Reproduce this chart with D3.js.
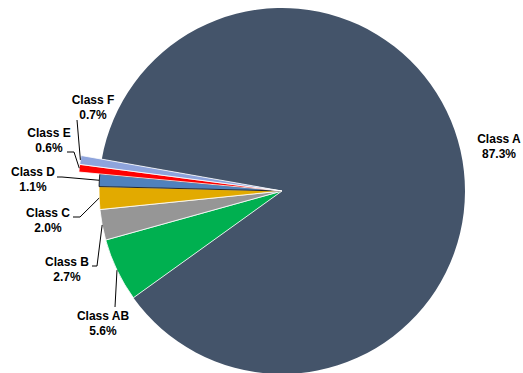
<!DOCTYPE html>
<html>
<head>
<meta charset="utf-8">
<script src="https://cdn.jsdelivr.net/npm/d3@7"></script>
<style>
  body { margin: 0; background: #fff; }
  text { font-family: Arial, "Liberation Sans", sans-serif; font-weight: bold; font-size: 12px; fill: #000; }
</style>
</head>
<body>
<svg id="chart"></svg>
<script>
// data, in drawing order (clockwise from the A / AB border)
let classes = ["Class AB", "Class B", "Class C", "Class D", "Class E", "Class F", "Class A"];
let shares = [5.6, 2.7, 2.0, 1.1, 0.6, 0.7, 87.3];
let colors = ["#00B050", "#969696", "#E2AA00", "#4F81BD", "#FF0000", "#8EA4DC", "#44546A"];

let width = 523, height = 373;
let cx = 282, cy = 191, radius = 183;

let svg = d3.select("#chart")
    .attr("width", width)
    .attr("height", height);

let g = svg.append("g").attr("transform", "translate(" + cx + "," + cy + ")");

// start angle (A/AB border, lower left)
let startAngle = 234.3 * Math.PI / 180;

let pie = d3.pie()
    .sort(null)
    .value(function (d) { return d; })
    .startAngle(startAngle)
    .endAngle(startAngle + 2 * Math.PI);

let arcs = pie(shares);

// E and F stick out a bit further than the rest
function outerR(i) {
    return (classes[i] === "Class E" || classes[i] === "Class F") ? 204 : radius;
}

let arc = d3.arc().innerRadius(0);

// big slice first so the small ones sit on top
let order = [6, 0, 1, 2, 3, 4, 5];
g.selectAll("path.slice")
    .data(order)
    .enter().append("path")
    .attr("class", "slice")
    .attr("d", function (i) { return arc.outerRadius(outerR(i))(arcs[i]); })
    .attr("fill", function (i) { return colors[i]; })
    .attr("stroke", function (i) { return classes[i] === "Class D" ? "#000" : "#fff"; })
    .attr("stroke-width", function (i) { return classes[i] === "Class A" ? 0 : 0.8; })
    .attr("stroke-linejoin", "round");

// point on the rim at the middle of a slice
function rimPoint(i) {
    let a = (arcs[i].startAngle + arcs[i].endAngle) / 2;
    let r = outerR(i);
    return [cx + r * Math.sin(a), cy - r * Math.cos(a)];
}

// label placement (moved by hand in the original)
let labelPos = {
    "Class A":  { x: 499, y: 143, bend: null },
    "Class AB": { x: 103, y: 320, bend: [[115, 307]] },
    "Class B":  { x: 67,  y: 266, bend: [[97, 266], [92, 266]] },
    "Class C":  { x: 48,  y: 217, bend: [[80, 217], [73, 217]] },
    "Class D":  { x: 33,  y: 176, bend: [[62, 177], [57, 177]] },
    "Class E":  { x: 49,  y: 137, bend: [[74, 152], [67, 152]] },
    "Class F":  { x: 93,  y: 104, bend: [[77, 120]] }
};

let line = d3.line();

classes.forEach(function (name, i) {
    let p = labelPos[name];
    if (p.bend) {
        svg.append("path")
            .attr("d", line([rimPoint(i)].concat(p.bend)))
            .attr("fill", "none")
            .attr("stroke", "#000")
            .attr("stroke-width", 1);
    }
    let t = svg.append("text")
        .attr("x", p.x)
        .attr("y", p.y)
        .attr("text-anchor", "middle");
    t.append("tspan").attr("x", p.x).text(name);
    t.append("tspan").attr("x", p.x).attr("dy", 15).text(shares[i].toFixed(1) + "%");
});
</script>
</body>
</html>
